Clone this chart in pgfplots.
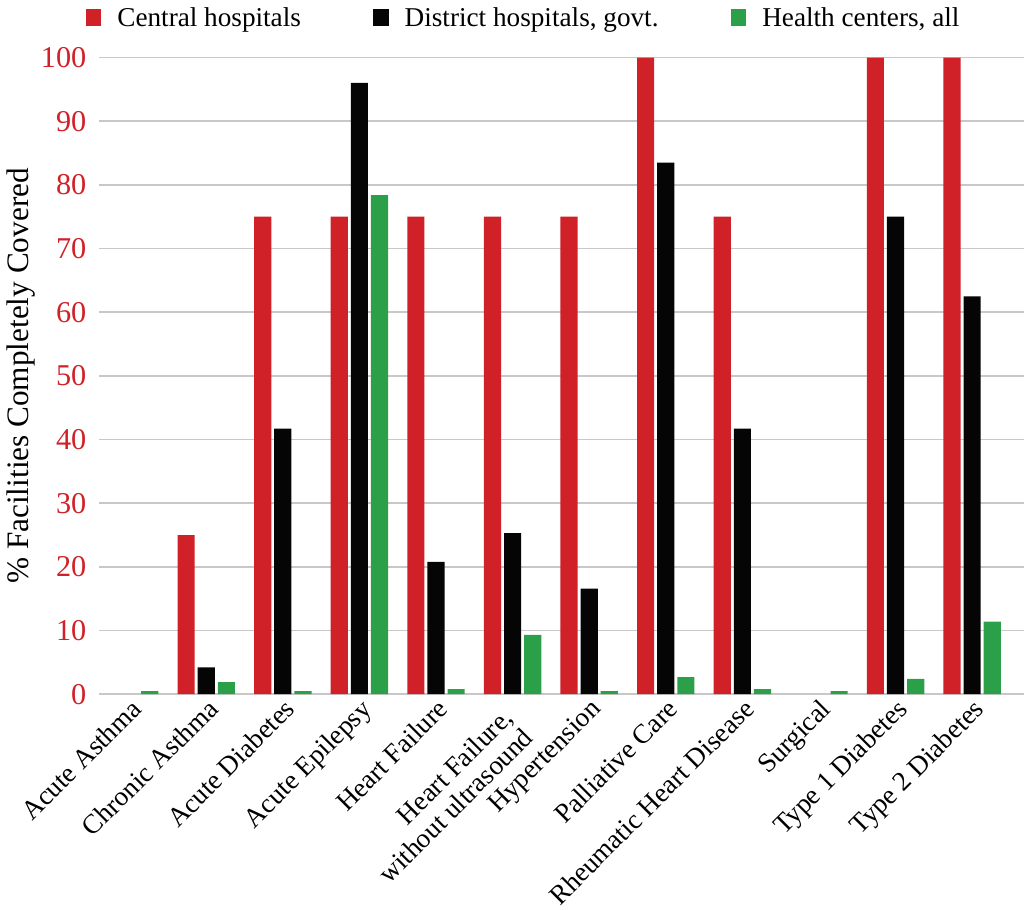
\documentclass[border=0pt]{standalone}
\usepackage{fontspec}
\setmainfont{Liberation Serif}
\usepackage{pgfplots}
\pgfplotsset{compat=1.18}
\definecolor{cred}{HTML}{D02129}
\definecolor{cblack}{HTML}{050505}
\definecolor{cgreen}{HTML}{2CA048}
\definecolor{cgrid}{HTML}{C8C8C8}
\begin{document}
\begin{tikzpicture}
\begin{axis}[
  width=459pt, height=316pt, scale only axis,
  ybar, bar width=0.224,
  xmin=-0.395, xmax=11.68,
  ymin=0, ymax=100,
  ytick={0,10,...,100},
  xtick={0,1,2,3,4,6,7,8,9,10,11},
  xticklabels={Acute Asthma, Chronic Asthma, Acute Diabetes, Acute Epilepsy,
    Heart Failure, Hypertension,
    Palliative Care, Rheumatic Heart Disease, Surgical, Type 1 Diabetes, Type 2 Diabetes},
  extra x ticks={5},
  extra x tick labels={Heart Failure{,}\\without ultrasound},
  extra x tick style={xticklabel style={xshift=-7pt, yshift=1pt}},
  xticklabel style={rotate=45, anchor=north east, align=right, font=\fontsize{13.5}{14}\selectfont, inner sep=1pt},
  yticklabel style={text=cred, font=\fontsize{15}{16}\selectfont, xshift=-3pt},
  /pgf/number format/assume math mode=true,
  major tick length=0pt,
  axis line style={draw=none},
  ymajorgrids, grid style={cgrid, line width=0.8pt},
  ylabel={\% Facilities Completely Covered},
  ylabel style={font=\fontsize{15.5}{16}\selectfont, yshift=-4pt},
  legend style={at={(0.46,1.03)}, anchor=south, draw=none, legend columns=3,
    font=\fontsize{13.5}{14}\selectfont,
    /tikz/every odd column/.append style={column sep=6pt},
    /tikz/every even column/.append style={column sep=34pt}},
  legend image code/.code={\fill[#1] (0pt,-3.5pt) rectangle (7.5pt,5pt);},
]
\addplot[fill=cred, draw=none, bar shift=-0.263] coordinates {
  (1,25) (2,75) (3,75) (4,75) (5,75) (6,75) (7,100) (8,75) (10,100) (11,100)};
\addplot[fill=cblack, draw=none, bar shift=0] coordinates {
  (1,4.2) (2,41.7) (3,96) (4,20.8) (5,25.3) (6,16.6) (7,83.5) (8,41.7) (10,75) (11,62.5)};
\addplot[fill=cgreen, draw=none, bar shift=0.263] coordinates {
  (0,0.5) (1,1.9) (2,0.5) (3,78.4) (4,0.8) (5,9.3) (6,0.5) (7,2.7) (8,0.8) (9,0.5) (10,2.4) (11,11.4)};
\legend{Central hospitals, District hospitals{,} govt., {Health centers, all}}
\end{axis}
\end{tikzpicture}
\end{document}
